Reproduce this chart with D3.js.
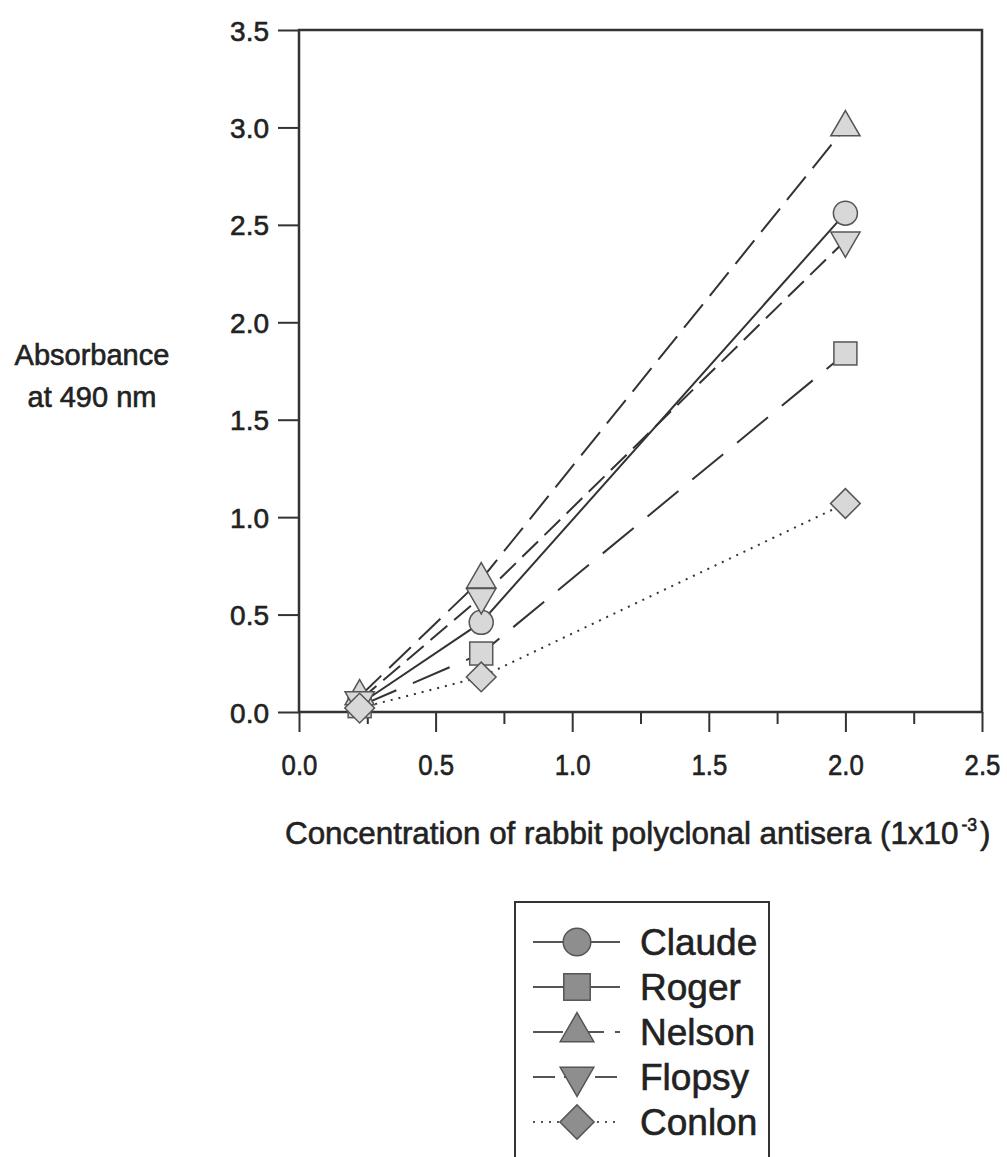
<!DOCTYPE html>
<html>
<head>
<meta charset="utf-8">
<script src="https://cdn.jsdelivr.net/npm/d3@7/dist/d3.min.js"></script>
<style>
	body { margin: 0; background: #fff; }
	svg { display: block; font-family: "Liberation Sans", Arial, sans-serif; }
	.line { fill: none; stroke: #333; stroke-width: 2; }
	.lbl { fill: #222; stroke: #222; stroke-width: 0.6; }
</style>
</head>
<body>
<div id="chart"></div>
<script>
// dilution of antisera (x 10^-3)
var concentration = [0.222, 0.667, 2.0];

var seriesNames = ["Claude", "Roger", "Nelson", "Flopsy", "Conlon"];
var claude = [0.04, 0.46, 2.56];
var roger  = [0.03, 0.30, 1.84];
var nelson = [0.08, 0.68, 3.00];
var flopsy = [0.06, 0.59, 2.42];
var conlon = [0.02, 0.18, 1.07];

var xTicks = [0, 0.5, 1.0, 1.5, 2.0, 2.5];
var xMinorTicks = [0.25, 0.75, 1.25, 1.75, 2.25];
var yTicks = [0, 0.5, 1.0, 1.5, 2.0, 2.5, 3.0, 3.5];

var allSeries = [claude, roger, nelson, flopsy, conlon];
var dashes = [null, "40,18", "30,11", "22,9", "2,6"];
var markerFill = "#d8d8d8", legendFill = "#8e8e8e";

var W = 1007, H = 1157;
var svg = d3.select("#chart").append("svg").attr("width", W).attr("height", H);

var x = d3.scaleLinear().domain([0, 2.5]).range([299, 982]);
var y = d3.scaleLinear().domain([0, 3.5]).range([712, 30]);

// marker shapes, roughly the pixel sizes of the scan
function marker(g, i, fill, scale){
	var s = scale || 1;
	var m;
	if(i == 0){
		m = g.append("circle").attr("r", 12*s);
	}else if(i == 1){
		m = g.append("rect").attr("x", -11.5*s).attr("y", -11.5*s).attr("width", 23*s).attr("height", 23*s);
	}else if(i == 2){
		m = g.append("path").attr("d", d3.symbol(d3.symbolTriangle, 370*s*s)());
	}else if(i == 3){
		m = g.append("path").attr("d", d3.symbol(d3.symbolTriangle, 370*s*s)()).attr("transform", "rotate(180)");
	}else{
		m = g.append("path").attr("d", d3.symbol(d3.symbolSquare, 441*s*s)()).attr("transform", "rotate(45)");
	}
	m.attr("fill", fill).attr("stroke", "#555").attr("stroke-width", 1.5);
}

// axes
var xAxis = d3.axisBottom(x).tickValues(xTicks).tickSize(20).tickPadding(22).tickFormat(d3.format(".1f"));
var xMinor = d3.axisBottom(x).tickValues(xMinorTicks).tickSize(12).tickFormat("");
var yAxis = d3.axisLeft(y).tickValues(yTicks).tickSize(21).tickPadding(9).tickFormat(d3.format(".1f"));

var gx = svg.append("g").attr("transform", "translate(0,712)").call(xAxis);
svg.append("g").attr("transform", "translate(0,712)").call(xMinor);
var gy = svg.append("g").attr("transform", "translate(299,0)").call(yAxis);

svg.selectAll(".domain").remove();
svg.selectAll(".tick line").attr("stroke", "#333").attr("stroke-width", 2);

// x labels look condensed in the scan
gx.selectAll("text")
	.attr("class", "lbl")
	.attr("transform", "scale(0.86,1)")
	.style("font-size", "30px");
gy.selectAll("text")
	.attr("class", "lbl")
	.attr("dy", "0.36em")
	.style("font-size", "28px");

// frame
svg.append("rect")
	.attr("x", 299).attr("y", 30)
	.attr("width", 982-299).attr("height", 712-30)
	.attr("fill", "none").attr("stroke", "#333").attr("stroke-width", 2.5);

// lines
var line = d3.line()
	.x(function(d, i){ return x(concentration[i]); })
	.y(function(d){ return y(d); });

allSeries.forEach(function(s, i){
	svg.append("path")
		.attr("class", "line")
		.attr("d", line(s))
		.attr("stroke-dasharray", dashes[i]);
});

allSeries.forEach(function(s, i){
	s.forEach(function(v, j){
		var g = svg.append("g").attr("transform", "translate(" + x(concentration[j]) + "," + y(v) + ")");
		marker(g, i, markerFill);
	});
});

// axis titles
var yl = svg.append("text")
	.attr("class", "lbl")
	.attr("text-anchor", "middle")
	.style("font-size", "29px");
yl.append("tspan").attr("x", 92).attr("y", 365).text("Absorbance");
yl.append("tspan").attr("x", 92).attr("y", 407).text("at 490 nm");

var xt = svg.append("text")
	.attr("class", "lbl")
	.attr("x", 0).attr("y", 0)
	.style("font-size", "32px");
xt.append("tspan").text("Concentration of rabbit polyclonal antisera (1x10");
xt.append("tspan").attr("dx", 3).attr("dy", -13).style("font-size", "18px").text("-3");
xt.append("tspan").attr("dx", 3).attr("dy", 13).text(")");
// squeeze to the width of the scan (about 700px)
var tw = xt.node().getComputedTextLength();
xt.attr("transform", "translate(285,844) scale(" + (700/tw) + ",1)");

// legend
svg.append("rect")
	.attr("x", 515).attr("y", 902)
	.attr("width", 254).attr("height", 300)
	.attr("fill", "#fff").attr("stroke", "#333").attr("stroke-width", 2);

seriesNames.forEach(function(name, i){
	var ly = 942 + i*45;
	svg.append("line")
		.attr("x1", 533).attr("x2", 620)
		.attr("y1", ly).attr("y2", ly)
		.attr("stroke", "#555").attr("stroke-width", 2)
		.attr("stroke-dasharray", dashes[i]);
	var g = svg.append("g").attr("transform", "translate(577," + ly + ")");
	marker(g, i, legendFill, 1.15);
	svg.append("text")
		.attr("class", "lbl")
		.attr("x", 640).attr("y", ly)
		.attr("dy", "0.36em")
		.style("font-size", "37px")
		.text(name);
});
</script>
</body>
</html>
